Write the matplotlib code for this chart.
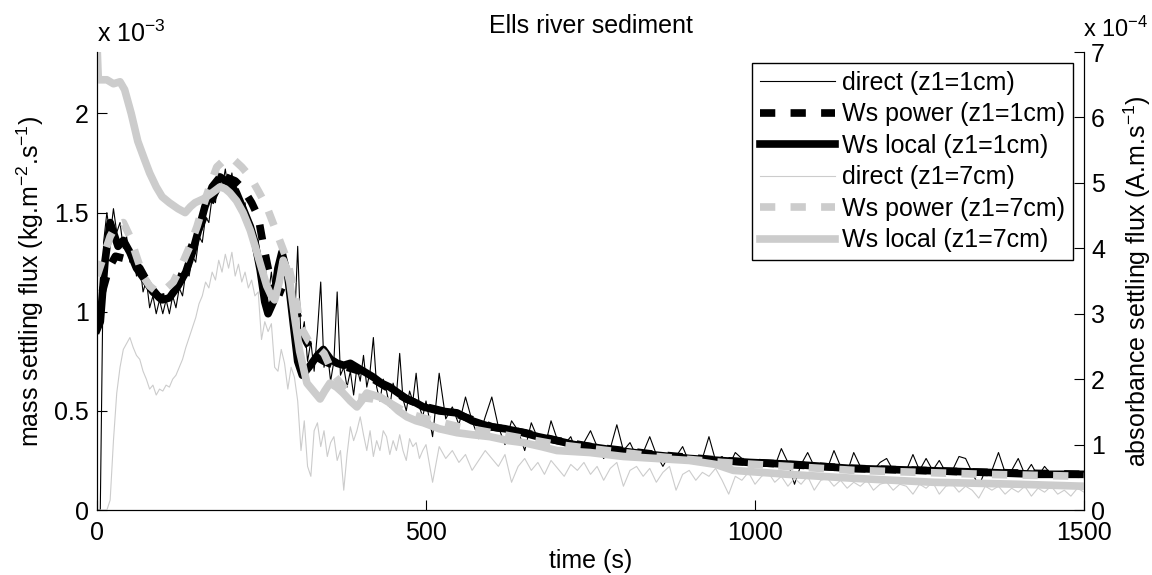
import numpy as np
import matplotlib
matplotlib.use('Agg')
import matplotlib.pyplot as plt

plt.rcParams['font.family'] = ['Liberation Sans', 'DejaVu Sans']
plt.rcParams['mathtext.fontset'] = 'custom'
plt.rcParams['mathtext.rm'] = 'Liberation Sans'
plt.rcParams['mathtext.default'] = 'regular'

# values in units of 1e-3 kg.m-2.s-1 (left axis)
t_direct = list(range(0, 501, 5)) + list(range(510, 1501, 10))

direct_1cm = [
    0.0, 0.0, 1.35, 1.50, 1.38, 1.52, 1.40, 1.45, 1.32, 1.38,
    1.25, 1.30, 1.18, 1.24, 1.10, 1.16, 1.02, 1.08, 0.99, 1.06,
    0.99, 1.06, 0.99, 1.08, 1.02, 1.12, 1.08, 1.20, 1.18, 1.28,
    1.25, 1.38, 1.35, 1.48, 1.45, 1.58, 1.55, 1.70, 1.62, 1.72,
    1.60, 1.70, 1.58, 1.62, 1.50, 1.55, 1.42, 1.45, 1.32, 1.36,
    1.20, 1.25, 1.08, 1.20, 1.05, 1.25, 1.15, 1.30, 1.10, 1.05,
    0.92, 1.33, 0.85, 0.95, 0.75, 0.85, 0.70, 0.90, 1.15, 0.72,
    0.80, 0.65, 0.75, 1.10, 0.68, 0.72, 0.62, 0.70, 0.58, 0.72,
    0.65, 0.78, 0.62, 0.70, 0.87, 0.62, 0.55, 0.66, 0.60, 0.52,
    0.64, 0.58, 0.79, 0.56, 0.50, 0.60, 0.55, 0.69, 0.52, 0.47,
    0.55,
    0.37, 0.69, 0.46, 0.52, 0.43, 0.57, 0.45, 0.36, 0.47, 0.57,
    0.42, 0.33, 0.45, 0.40, 0.30, 0.44, 0.36, 0.31, 0.45, 0.35,
    0.33, 0.37, 0.28, 0.34, 0.40, 0.32, 0.26, 0.31, 0.43, 0.30,
    0.34, 0.27, 0.29, 0.37, 0.28, 0.22, 0.28, 0.27, 0.32, 0.24,
    0.26, 0.26, 0.37, 0.25, 0.27, 0.22, 0.29, 0.26, 0.23, 0.24,
    0.23, 0.25, 0.22, 0.31, 0.24, 0.13, 0.23, 0.29, 0.22, 0.23,
    0.21, 0.30, 0.22, 0.19, 0.29, 0.22, 0.21, 0.20, 0.24, 0.26,
    0.20, 0.21, 0.20, 0.28, 0.20, 0.26, 0.20, 0.25, 0.19, 0.20,
    0.27, 0.26, 0.19, 0.12, 0.20, 0.20, 0.29, 0.19, 0.20, 0.26,
    0.18, 0.23, 0.17, 0.22, 0.18, 0.19, 0.17, 0.18, 0.17, 0.17,
]

direct_7cm = [
    0.0, 0.0, 0.0, 0.0, 0.05, 0.35, 0.59, 0.72, 0.81, 0.84,
    0.87, 0.82, 0.78, 0.76, 0.70, 0.66, 0.61, 0.63, 0.58, 0.61,
    0.60, 0.63, 0.62, 0.66, 0.68, 0.72, 0.76, 0.82, 0.87, 0.92,
    0.97, 1.04, 1.08, 1.15, 1.12, 1.20, 1.16, 1.26, 1.20, 1.29,
    1.22, 1.30, 1.18, 1.24, 1.15, 1.20, 1.12, 1.16, 1.08, 1.10,
    0.86, 0.95, 0.90, 0.94, 0.72, 0.70, 0.81, 0.74, 0.61, 0.72,
    0.67, 0.55, 0.30, 0.45, 0.22, 0.17, 0.40, 0.44, 0.32, 0.40,
    0.27, 0.34, 0.37, 0.25, 0.30, 0.10, 0.28, 0.42, 0.35, 0.40,
    0.47, 0.38, 0.30, 0.40, 0.27, 0.35, 0.30, 0.40, 0.37, 0.28,
    0.35, 0.30, 0.38, 0.30, 0.25, 0.36, 0.32, 0.34, 0.26, 0.30,
    0.33,
    0.14, 0.32, 0.26, 0.30, 0.24, 0.28, 0.20, 0.25, 0.30, 0.26,
    0.22, 0.28, 0.14, 0.22, 0.26, 0.20, 0.24, 0.18, 0.25, 0.21,
    0.17, 0.23, 0.20, 0.24, 0.18, 0.22, 0.15, 0.21, 0.24, 0.12,
    0.20, 0.22, 0.17, 0.21, 0.14, 0.19, 0.22, 0.10, 0.18, 0.20,
    0.15, 0.19, 0.17, 0.21, 0.15, 0.08, 0.17, 0.15, 0.19, 0.13,
    0.17, 0.19, 0.14, 0.17, 0.12, 0.16, 0.13, 0.17, 0.10, 0.15,
    0.16, 0.12, 0.15, 0.11, 0.14, 0.12, 0.15, 0.10, 0.13, 0.14,
    0.10, 0.13, 0.12, 0.08, 0.13, 0.11, 0.14, 0.08, 0.12, 0.13,
    0.09, 0.12, 0.10, 0.06, 0.12, 0.10, 0.12, 0.08, 0.11, 0.09,
    0.12, 0.07, 0.11, 0.09, 0.12, 0.08, 0.10, 0.07, 0.11, 0.09,
]

t_power_1cm = [0, 8, 18, 28, 40, 55, 65, 80, 95, 110, 125, 140, 155, 172, 185, 195,
               210, 222, 235, 245, 252, 260, 268, 280, 295, 305, 318, 330, 345, 360,
               380, 400, 430, 470, 500, 550, 600, 650, 700, 750, 850, 950, 1050,
               1150, 1250, 1350, 1500]
power_1cm = [0.95, 1.10, 1.22, 1.28, 1.27, 1.25, 1.22, 1.13, 1.07, 1.08, 1.15, 1.30,
             1.42, 1.55, 1.64, 1.68, 1.66, 1.62, 1.55, 1.48, 1.35, 1.22, 1.12, 1.10,
             1.08, 0.98, 0.85, 0.78, 0.75, 0.73, 0.72, 0.70, 0.64, 0.56, 0.52, 0.48,
             0.42, 0.39, 0.35, 0.32, 0.28, 0.25, 0.23, 0.21, 0.20, 0.19, 0.18]

t_local_1cm = [0, 5, 12, 20, 25, 32, 40, 50, 60, 73, 85, 99, 110, 123, 135, 145, 155,
               164, 175, 187, 200, 212, 222, 233, 240, 248, 255, 260, 268, 275, 281,
               290, 298, 305, 312, 322, 335, 344, 355, 365, 375, 385, 395, 410, 420,
               432, 445, 458, 471, 485, 496, 520, 547, 570, 597, 620, 648, 670, 699,
               725, 749, 790, 840, 900, 992, 1060, 1144, 1250, 1350, 1430, 1500]
local_1cm = [0.91, 0.95, 1.25, 1.45, 1.40, 1.33, 1.36, 1.30, 1.22, 1.16, 1.10, 1.06,
             1.07, 1.13, 1.20, 1.30, 1.42, 1.53, 1.63, 1.68, 1.65, 1.60, 1.52, 1.43,
             1.35, 1.21, 1.05, 0.99, 1.05, 1.22, 1.30, 1.18, 0.95, 0.75, 0.68, 0.72,
             0.78, 0.81, 0.76, 0.74, 0.73, 0.74, 0.72, 0.69, 0.67, 0.64, 0.62, 0.59,
             0.56, 0.54, 0.52, 0.50, 0.49, 0.45, 0.42, 0.41, 0.39, 0.37, 0.35, 0.33,
             0.32, 0.30, 0.28, 0.26, 0.24, 0.23, 0.21, 0.20, 0.19, 0.18, 0.18]

t_power_7cm = [0, 10, 20, 30, 40, 50, 60, 70, 80, 91, 103, 116, 128, 141, 152, 161,
               172, 182, 195, 207, 220, 233, 245, 258, 273, 289, 300, 310, 322, 332,
               345, 360, 375, 395, 420, 445, 471, 500, 550, 600, 650, 700, 750, 850,
               950, 1050, 1150, 1250, 1350, 1500]
power_7cm = [1.18, 1.28, 1.38, 1.44, 1.45, 1.38, 1.28, 1.18, 1.13, 1.10, 1.11, 1.15,
             1.23, 1.33, 1.43, 1.53, 1.64, 1.73, 1.77, 1.77, 1.73, 1.68, 1.61, 1.53,
             1.40, 1.26, 1.10, 0.92, 0.85, 0.83, 0.79, 0.68, 0.62, 0.57, 0.56, 0.54,
             0.49, 0.46, 0.42, 0.39, 0.36, 0.33, 0.31, 0.27, 0.24, 0.22, 0.20, 0.19,
             0.18, 0.17]

t_local_7cm = [0, 2, 15, 25, 35, 42, 52, 62, 72, 80, 90, 99, 110, 123, 134, 142, 149,
               162, 175, 187, 195, 202, 212, 222, 233, 243, 250, 258, 265, 270, 277,
               283, 288, 293, 300, 308, 319, 329, 339, 346, 354, 364, 374, 385, 395,
               402, 410, 420, 430, 445, 458, 471, 485, 496, 520, 547, 570, 597, 625,
               648, 675, 699, 749, 800, 850, 900, 940, 967, 1050, 1150, 1271, 1400, 1500]
local_7cm = [2.35, 2.17, 2.17, 2.15, 2.16, 2.12, 2.00, 1.86, 1.77, 1.70, 1.63, 1.58,
             1.55, 1.52, 1.50, 1.53, 1.55, 1.57, 1.60, 1.63, 1.62, 1.60, 1.56, 1.50,
             1.41, 1.30, 1.22, 1.13, 1.08, 1.06, 1.15, 1.26, 1.22, 1.15, 0.98, 0.80,
             0.64, 0.60, 0.56, 0.60, 0.64, 0.62, 0.59, 0.55, 0.52, 0.55, 0.59, 0.58,
             0.57, 0.54, 0.50, 0.47, 0.45, 0.44, 0.41, 0.39, 0.38, 0.37, 0.35, 0.34,
             0.32, 0.30, 0.29, 0.27, 0.26, 0.25, 0.23, 0.20, 0.18, 0.16, 0.14, 0.13,
             0.12]

grey = '#cccccc'
fs = 18

fig = plt.figure(figsize=(11.52, 5.75), dpi=100)
ax = fig.add_axes([0.0842, 0.113, 0.8568, 0.7965])

ax.plot(t_direct, direct_1cm, color='k', lw=0.8, label='direct (z1=1cm)')
ax.plot(t_power_1cm, power_1cm, color='k', lw=5.5, dashes=[2, 2],
        dash_capstyle='butt', label='Ws power (z1=1cm)')
ax.plot(t_local_1cm, local_1cm, color='k', lw=5.5, label='Ws local (z1=1cm)')
ax.plot(t_direct, direct_7cm, color=grey, lw=0.8, label='direct (z1=7cm)')
ax.plot(t_power_7cm, power_7cm, color=grey, lw=5.5, dashes=[2, 2],
        dash_capstyle='butt', label='Ws power (z1=7cm)')
ax.plot(t_local_7cm, local_7cm, color=grey, lw=5.5, label='Ws local (z1=7cm)')

ax.set_xlim(0, 1500)
ax.set_ylim(0, 2.31)
ax.set_xticks([0, 500, 1000, 1500])
ax.set_yticks([0, 0.5, 1, 1.5, 2])
ax.set_yticklabels(['0', '0.5', '1', '1.5', '2'])
ax.tick_params(direction='in', length=7, width=0.8, labelsize=fs, top=False, right=False)
ax.tick_params(axis='x', pad=8)
ax.tick_params(axis='y', pad=6)
ax.spines['top'].set_visible(False)
for s in ['left', 'bottom', 'right']:
    ax.spines[s].set_linewidth(0.8)
ax.set_xlabel('time (s)', fontsize=fs, labelpad=3)
ax.set_ylabel('mass settling flux (kg.m$^{-2}$.s$^{-1}$)', fontsize=fs, labelpad=6)

ax2 = ax.twinx()
ax2.set_ylim(0, 7)
ax2.set_yticks(range(0, 8))
ax2.tick_params(direction='in', length=7, width=0.8, labelsize=fs, pad=5)
ax2.spines['top'].set_visible(False)
ax2.spines['right'].set_linewidth(0.8)
ax2.set_ylabel('absorbance settling flux (A.m.s$^{-1}$)', fontsize=fs, labelpad=12)

leg = ax.legend(loc='upper right', fontsize=fs, handlelength=3, handletextpad=0.3,
                labelspacing=0.3, borderpad=0.3, borderaxespad=0.45,
                fancybox=False, framealpha=1, edgecolor='k')
leg.get_frame().set_linewidth(1.0)
leg.set_zorder(10)
ax.set_zorder(ax2.get_zorder() + 1)
ax.patch.set_visible(False)

fig.text(0.513, 0.943, 'Ells river sediment', fontsize=fs, ha='center', va='baseline')
fig.text(0.084, 0.927, 'x 10$^{-3}$', fontsize=fs, ha='left', va='baseline')
fig.text(0.9405, 0.935, 'x 10$^{-4}$', fontsize=17, ha='left', va='baseline')

fig.savefig('out.png', dpi=100)
